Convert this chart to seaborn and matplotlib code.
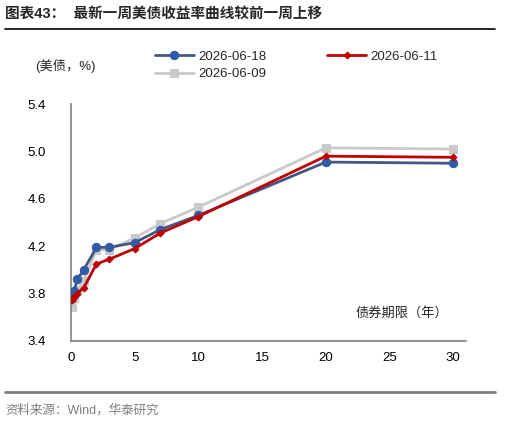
import numpy as np
import pandas as pd
import seaborn as sns
from matplotlib import pyplot as plt

# maturities in years: 1M, 3M, 6M, 1Y, 2Y, 3Y, 5Y, 7Y, 10Y, 20Y, 30Y
tenor = [1 / 12, 0.25, 0.5, 1, 2, 3, 5, 7, 10, 20, 30]
y_0618 = [3.76, 3.82, 3.92, 4.00, 4.19, 4.19, 4.23, 4.34, 4.46, 4.91, 4.90]
y_0611 = [3.75, 3.77, 3.80, 3.85, 4.05, 4.09, 4.18, 4.31, 4.45, 4.96, 4.95]
y_0609 = [3.69, 3.76, 3.83, 3.91, 4.17, 4.17, 4.27, 4.39, 4.53, 5.03, 5.02]
labels = ["2026-06-18", "2026-06-11", "2026-06-09"]

sns.set_style("white")
plt.rcParams["font.family"] = ["Liberation Sans", "Noto Sans CJK SC"]

df = pd.DataFrame({
    "tenor": tenor * 3,
    "yield": y_0618 + y_0611 + y_0609,
    "date": np.repeat(labels, len(tenor)),
})

fig = plt.figure(figsize=(5.06, 4.24), dpi=100)
ax = fig.add_axes([0.1403, 0.1958, 0.7807, 0.5589])

styles = {
    "2026-06-18": dict(color="#44577F", marker="o", markersize=6, mfc="#2F5BA8", mec="#2F5BA8", zorder=3),
    "2026-06-11": dict(color="#C00000", marker="D", markersize=3.5, mfc="#C00000", mec="#C00000", zorder=4),
    "2026-06-09": dict(color="#C9C9C9", marker="s", markersize=6, mfc="#C9C9C9", mec="#C9C9C9", zorder=2),
}
for lab in labels:
    sub = df[df["date"] == lab]
    sns.lineplot(data=sub, x="tenor", y="yield", ax=ax, label=lab, lw=2, **styles[lab])

ax.set_xlim(0, 31)
ax.set_ylim(3.4, 5.4)
ax.set_xticks(range(0, 31, 5))
ax.set_yticks([3.4, 3.8, 4.2, 4.6, 5.0, 5.4])
ax.set_yticklabels(["3.4", "3.8", "4.2", "4.6", "5.0", "5.4"])
ax.set_xlabel("")
ax.set_ylabel("")
for s in ["top", "right"]:
    ax.spines[s].set_visible(False)
for s in ["left", "bottom"]:
    ax.spines[s].set_color("#808080")
    ax.spines[s].set_linewidth(1.2)
ax.tick_params(axis="both", direction="out", length=4, width=1, color="#808080",
               labelsize=9.5, labelcolor="black", pad=4)
ax.tick_params(axis="y", pad=14)

h, l = ax.get_legend_handles_labels()
order = [0, 2, 1]
fig.legend([h[i] for i in order], [l[i] for i in order], loc="upper left",
           bbox_to_anchor=(0.295, 0.893), ncol=2, frameon=False, fontsize=9.5,
           handlelength=3.0, columnspacing=4.6, labelspacing=0.4, handletextpad=0.3,
           borderaxespad=0)
ax.get_legend().remove()

fig.text(0.069, 0.845, "(美债，%)", fontsize=9.5, va="center")
ax.text(0.72, 0.115, "债券期限（年）", transform=ax.transAxes, fontsize=9.5, va="center")

fig.text(0.01, 0.968, "图表43：  最新一周美债收益率曲线较前一周上移", fontsize=10.5,
         fontweight="bold", va="center")
fig.add_artist(plt.Line2D([0.01, 0.978], [0.932, 0.932], color="black", lw=1.2))
fig.add_artist(plt.Line2D([0.01, 0.978], [0.075, 0.075], color="#7F7F7F", lw=2))
fig.text(0.01, 0.033, "资料来源：Wind，华泰研究", fontsize=9, color="#7F7F7F", va="center")

fig.savefig("out.png", dpi=100)
